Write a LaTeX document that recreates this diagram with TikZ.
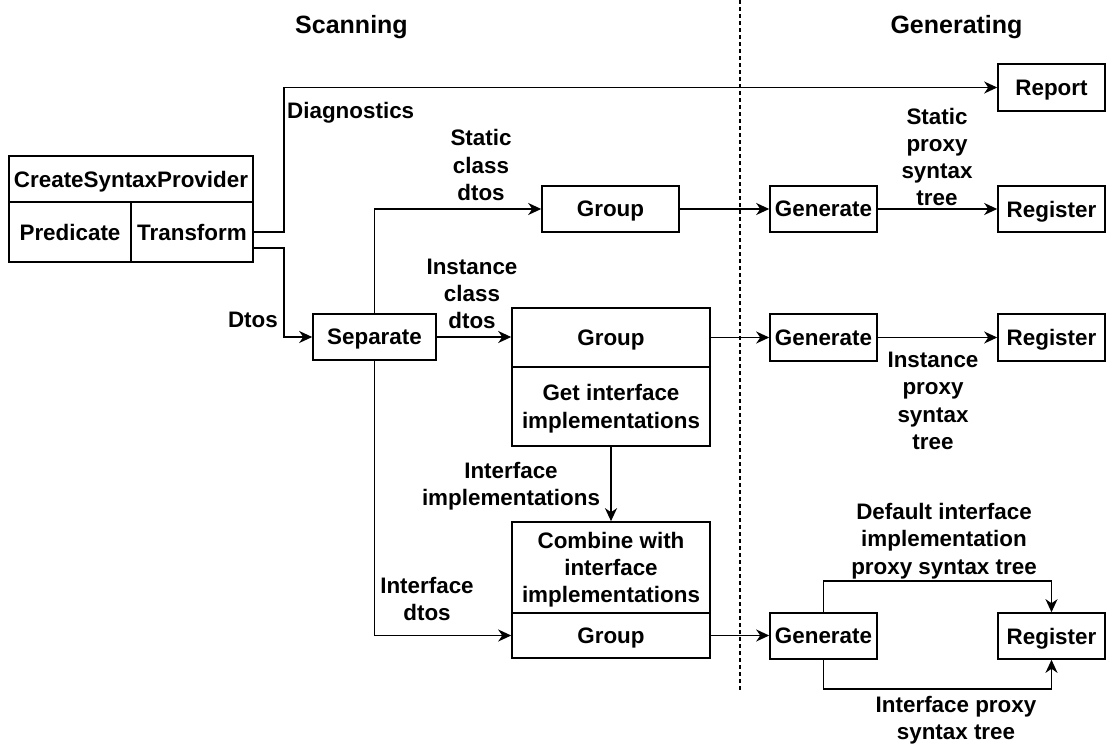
\documentclass[tikz,border=0pt]{standalone}
\usepackage{fontspec}
\setmainfont{Liberation Sans}
\usetikzlibrary{arrows.meta,calc}

\tikzset{
  x=1pt, y=-1pt,
  box/.style={draw, line width=1.6pt, rectangle, inner sep=0pt, align=center,
    text depth=0pt, font=\bfseries\fontsize{22.4}{27.3}\selectfont},
  lbl/.style={inner sep=0pt, align=center, font=\bfseries\fontsize{22.4}{27.3}\selectfont},
  hdr/.style={inner sep=0pt, font=\bfseries\fontsize{25}{30}\selectfont},
  conn/.style={line width=1.5pt},
  arr/.style={conn, -{Stealth[length=13pt,width=12pt,inset=4pt]}},
  sep line/.style={line width=1.3pt, dash pattern=on 4pt off 3pt},
}
% box with given left, top, right, bottom edges
\newcommand{\boxat}[6]{%
  \node[box, minimum width={#4-#2}, minimum height={#5-#3}] (#1) at ({(#2+#4)/2},{(#3+#5)/2}) {#6};}

\begin{document}
\begin{tikzpicture}
\useasboundingbox (0,0) rectangle (1106,744);

% column headers and divider
\node[hdr] (hscan) at (351.5,27) {Scanning};
\node[hdr] (hgen) at (956.5,27) {Generating};
\coordinate (divtop) at (740,0);
\coordinate (divbot) at (740,690);
\draw[sep line] (divtop) -- (divbot);

% incremental generator entry
\boxat{csp}{9}{156}{253}{202}{CreateSyntaxProvider}
\boxat{pred}{9}{202}{131}{262}{Predicate}
\boxat{tr}{131}{202}{253}{262}{Transform}

% scanning stage
\boxat{sep}{313}{314}{436}{360}{Separate}
\boxat{grpS}{542}{186}{679}{232}{Group}
\boxat{grpI}{512}{308}{710}{367}{Group}
\boxat{gimpl}{512}{367}{710}{446}{Get interface\\implementations}
\boxat{comb}{512}{522}{710}{613}{Combine with\\interface\\implementations}
\boxat{grpF}{512}{613}{710}{658}{Group}

% generating stage
\boxat{rep}{998}{64}{1105}{111}{Report}
\boxat{gen1}{770}{186}{877}{232}{Generate}
\boxat{reg1}{998}{186}{1105}{232}{Register}
\boxat{gen2}{770}{314}{877}{361}{Generate}
\boxat{reg2}{998}{314}{1105}{361}{Register}
\boxat{gen3}{770}{613}{877}{659}{Generate}
\boxat{reg3}{998}{613}{1105}{659}{Register}

% connectors
\coordinate (trlow) at ($(tr.east)+(0,16)$);
\draw[arr] (tr.east) -- ++(30,0) |- (rep.west);
\draw[arr] (trlow) -- ++(30,0) |- (sep.west);
\draw[arr] (sep.north) |- (grpS.west);
\draw[arr] (sep.east) -- (sep.east -| grpI.west);
\draw[arr] (sep.south) |- (grpF.west);
\draw[arr] (gimpl.south) -- (comb.north);
\draw[arr] (grpS.east) -- (gen1.west);
\draw[arr] (grpI.east) -- (grpI.east -| gen2.west);
\draw[arr] (grpF.east) -- (grpF.east -| gen3.west);
\draw[arr] (gen1.east) -- (reg1.west);
\draw[arr] (gen2.east) -- (reg2.west);
\draw[arr] (gen3.north) -- ++(0,-31) -| (reg3.north);
\draw[arr] (gen3.south) -- ++(0,29) -| (reg3.south);

% connector labels
\node[lbl, anchor=west] (lDiag) at (287,113) {Diagnostics};
\node[lbl, anchor=east] (lDtos) at (278,320) {Dtos};
\node[lbl] (lStatic) at (481,165) {Static\\class\\dtos};
\node[lbl] (lInst) at (472,294) {Instance\\class\\dtos};
\node[lbl] (lImpl) at (511,486) {Interface\\implementations};
\node[lbl] (lIfc) at (427,599) {Interface\\dtos};
\node[lbl] (lSP) at (937,157) {Static\\proxy\\syntax\\tree};
\node[lbl] (lIP) at (933,401) {Instance\\proxy\\syntax\\tree};
\node[lbl] (lDef) at (944,541) {Default interface\\implementation\\proxy syntax tree};
\node[lbl] (lIfP) at (956,720.5) {Interface proxy\\syntax tree};
\end{tikzpicture}
\end{document}
